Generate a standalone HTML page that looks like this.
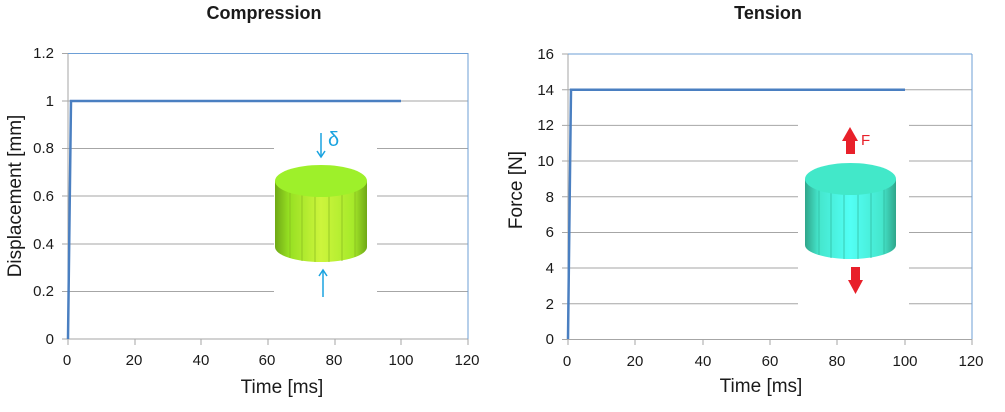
<!DOCTYPE html>
<html><head><style>body{margin:0;background:#fff}svg{display:block}text{font-family:"Liberation Sans",sans-serif;fill:#1a1a1a}</style></head>
<body>
<svg width="1005" height="412" viewBox="0 0 1005 412">
<defs>
<linearGradient id="gg" x1="0" x2="1"><stop offset="0" stop-color="#6fa816"/><stop offset="0.15" stop-color="#96e022"/><stop offset="0.5" stop-color="#cdf53c"/><stop offset="0.85" stop-color="#a6ea2a"/><stop offset="1" stop-color="#6fa816"/></linearGradient>
<linearGradient id="cg" x1="0" x2="1"><stop offset="0" stop-color="#2fa58a"/><stop offset="0.15" stop-color="#45e6cc"/><stop offset="0.5" stop-color="#52fff5"/><stop offset="0.85" stop-color="#45e6cc"/><stop offset="1" stop-color="#2fa58a"/></linearGradient>
</defs>
<!-- LEFT -->
<text x="264" y="19" font-size="18" font-weight="bold" text-anchor="middle">Compression</text>
<g stroke="#a6a6a6" stroke-width="1">
<line x1="62" y1="53.5" x2="468" y2="53.5"/>
<line x1="62" y1="101" x2="468" y2="101"/>
<line x1="62" y1="148.5" x2="468" y2="148.5"/>
<line x1="62" y1="196" x2="468" y2="196"/>
<line x1="62" y1="244" x2="468" y2="244"/>
<line x1="62" y1="291.5" x2="468" y2="291.5"/>
<line x1="62" y1="339" x2="468" y2="339"/>
<line x1="68" y1="53" x2="68" y2="345"/>
<line x1="135" y1="339" x2="135" y2="345"/><line x1="201" y1="339" x2="201" y2="345"/><line x1="268" y1="339" x2="268" y2="345"/><line x1="335" y1="339" x2="335" y2="345"/><line x1="401" y1="339" x2="401" y2="345"/><line x1="468" y1="339" x2="468" y2="345"/>
</g>
<line x1="68" y1="53.5" x2="468" y2="53.5" stroke="#6d9fd6"/><line x1="468" y1="53" x2="468" y2="339" stroke="#6d9fd6"/>
<rect x="274" y="130" width="103" height="172" fill="#fff"/>
<polyline points="68,339 71,101 401,101" fill="none" stroke="#4a7fc1" stroke-width="2.5"/>
<g font-size="15" text-anchor="end"><text x="54" y="58">1.2</text><text x="54" y="106">1</text><text x="54" y="153">0.8</text><text x="54" y="201">0.6</text><text x="54" y="249">0.4</text><text x="54" y="296">0.2</text><text x="54" y="344">0</text></g>
<g font-size="15" text-anchor="middle"><text x="67" y="365">0</text><text x="134" y="365">20</text><text x="201" y="365">40</text><text x="267" y="365">60</text><text x="334" y="365">80</text><text x="401" y="365">100</text><text x="467" y="365">120</text></g>
<text x="282" y="393" font-size="19" text-anchor="middle">Time [ms]</text>
<text transform="translate(21,196) rotate(-90)" font-size="19" text-anchor="middle">Displacement [mm]</text>
<!-- green cylinder -->
<path d="M275,181 L275,247 A46,15 0 0 0 367,247 L367,181 Z" fill="url(#gg)"/>
<g stroke="#86b820" stroke-width="0.7"><line x1="290" y1="190" x2="290" y2="258"/><line x1="302" y1="194" x2="302" y2="261"/><line x1="315" y1="196" x2="315" y2="262"/><line x1="329" y1="196" x2="329" y2="262"/><line x1="342" y1="194" x2="342" y2="261"/><line x1="355" y1="190" x2="355" y2="257"/></g>
<ellipse cx="321" cy="181" rx="46" ry="16" fill="#9ef02a"/>
<g stroke="#1aa3e0" stroke-width="1.5" fill="none"><line x1="321" y1="133" x2="321" y2="157"/><polyline points="317,151 321,157 325,151"/><line x1="323" y1="270" x2="323" y2="297"/><polyline points="319,276 323,270 327,276"/></g>
<text x="328" y="146" font-size="20" style="fill:#1aa3e0">δ</text>
<!-- RIGHT -->
<text x="768" y="19" font-size="18" font-weight="bold" text-anchor="middle">Tension</text>
<g stroke="#a6a6a6" stroke-width="1">
<line x1="562" y1="54" x2="972" y2="54"/>
<line x1="562" y1="89.7" x2="972" y2="89.7"/>
<line x1="562" y1="125.4" x2="972" y2="125.4"/>
<line x1="562" y1="161" x2="972" y2="161"/>
<line x1="562" y1="196.8" x2="972" y2="196.8"/>
<line x1="562" y1="232.5" x2="972" y2="232.5"/>
<line x1="562" y1="268" x2="972" y2="268"/>
<line x1="562" y1="303.8" x2="972" y2="303.8"/>
<line x1="562" y1="339.5" x2="972" y2="339.5"/>
<line x1="568" y1="54" x2="568" y2="345"/>
<line x1="635" y1="339" x2="635" y2="345"/><line x1="703" y1="339" x2="703" y2="345"/><line x1="770" y1="339" x2="770" y2="345"/><line x1="837" y1="339" x2="837" y2="345"/><line x1="905" y1="339" x2="905" y2="345"/><line x1="972" y1="339" x2="972" y2="345"/>
</g>
<line x1="568" y1="54" x2="972" y2="54" stroke="#6d9fd6"/><line x1="972" y1="54" x2="972" y2="339" stroke="#6d9fd6"/>
<rect x="798" y="118" width="111" height="190" fill="#fff"/>
<polyline points="568,339 571,89.7 905,89.7" fill="none" stroke="#4a7fc1" stroke-width="2.5"/>
<g font-size="15" text-anchor="end"><text x="554" y="59">16</text><text x="554" y="95">14</text><text x="554" y="130">12</text><text x="554" y="166">10</text><text x="554" y="202">8</text><text x="554" y="237">6</text><text x="554" y="273">4</text><text x="554" y="309">2</text><text x="554" y="344">0</text></g>
<g font-size="15" text-anchor="middle"><text x="567" y="366">0</text><text x="635" y="366">20</text><text x="703" y="366">40</text><text x="770" y="366">60</text><text x="837" y="366">80</text><text x="905" y="366">100</text><text x="971" y="366">120</text></g>
<text x="761" y="392" font-size="19" text-anchor="middle">Time [ms]</text>
<text transform="translate(522,190) rotate(-90)" font-size="19" text-anchor="middle">Force [N]</text>
<!-- cyan cylinder -->
<path d="M805,179 L805,245 A45.5,14 0 0 0 896,245 L896,179 Z" fill="url(#cg)"/>
<g stroke="#2fb59a" stroke-width="0.7"><line x1="819" y1="188" x2="819" y2="255"/><line x1="831" y1="192" x2="831" y2="258"/><line x1="844" y1="194" x2="844" y2="259"/><line x1="858" y1="194" x2="858" y2="259"/><line x1="871" y1="192" x2="871" y2="258"/><line x1="884" y1="188" x2="884" y2="254"/></g>
<ellipse cx="850.5" cy="179" rx="45.5" ry="16" fill="#42e8c9"/>
<path d="M846,154 L846,141 L842,141 L850,127 L858,141 L855,141 L855,154 Z" fill="#e8202a"/>
<path d="M851,267 L860,267 L860,280 L863,280 L855.5,294 L848,280 L851,280 Z" fill="#e8202a"/>
<text x="861" y="145" font-size="15" style="fill:#e8202a">F</text>
</svg>
</body></html>
